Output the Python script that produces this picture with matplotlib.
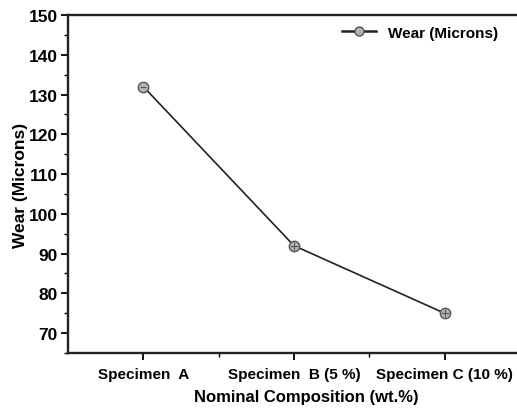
import matplotlib
matplotlib.use("Agg")
import matplotlib.pyplot as plt
from matplotlib.ticker import MultipleLocator, FixedLocator

plt.rcParams['font.family'] = ['Liberation Sans', 'DejaVu Sans']
plt.rcParams['font.weight'] = 'bold'

specimens = ["Specimen  A", "Specimen  B (5 %)", "Specimen C (10 %)"]
wear = [132, 92, 75]

fig = plt.figure(figsize=(5.17, 4.10), dpi=100)
ax = fig.add_axes([0.1315, 0.1366, 0.874, 0.8244])

xs = list(range(1, len(specimens) + 1))
ax.plot(xs, wear, color='#222222', lw=1.2, marker='o', ms=7.5,
        mfc='#b4b4b4', mec='#555555', mew=1.0, label='Wear (Microns)')
ax.plot(xs[1:], wear[1:], ls='none', marker='+', ms=6, mec='#555555', mew=0.8)
ax.plot(xs[:1], wear[:1], ls='none', marker='_', ms=5, mec='#555555', mew=0.8)

ax.set_xlim(0.5, 3.5)
ax.set_ylim(65, 150)
ax.set_xticks(xs)
ax.set_xticklabels(specimens, fontsize=11, fontweight='bold')
ax.xaxis.set_minor_locator(FixedLocator([1.5, 2.5]))
ax.yaxis.set_major_locator(MultipleLocator(10))
ax.yaxis.set_minor_locator(MultipleLocator(5))
for lab in ax.get_yticklabels():
    lab.set_fontsize(12.5)
    lab.set_fontweight('bold')

ax.tick_params(which='major', direction='out', length=5, width=1.3, pad=2.5)
ax.tick_params(which='minor', direction='out', length=3, width=1.0)
ax.tick_params(axis='x', pad=5)
for sp in ax.spines.values():
    sp.set_linewidth(1.7)
    sp.set_color('#222222')

ax.set_xlabel("Nominal Composition (wt.%)", fontsize=12, fontweight='bold', labelpad=6)
ax.xaxis.label.set_x(0.527)
ax.set_ylabel("Wear (Microns)", fontsize=12.5, fontweight='bold')
ax.yaxis.set_label_coords(-0.089, 0.5)

leg = ax.legend(loc='upper right', frameon=False, fontsize=11,
                handlelength=2.2, borderaxespad=0.3, bbox_to_anchor=(0.975, 1.0))
for t in leg.get_texts():
    t.set_fontweight('bold')
leg.get_lines()[0].set_linewidth(1.8)
leg.get_lines()[0].set_markersize(6.5)

fig.savefig("out.png", dpi=100)
